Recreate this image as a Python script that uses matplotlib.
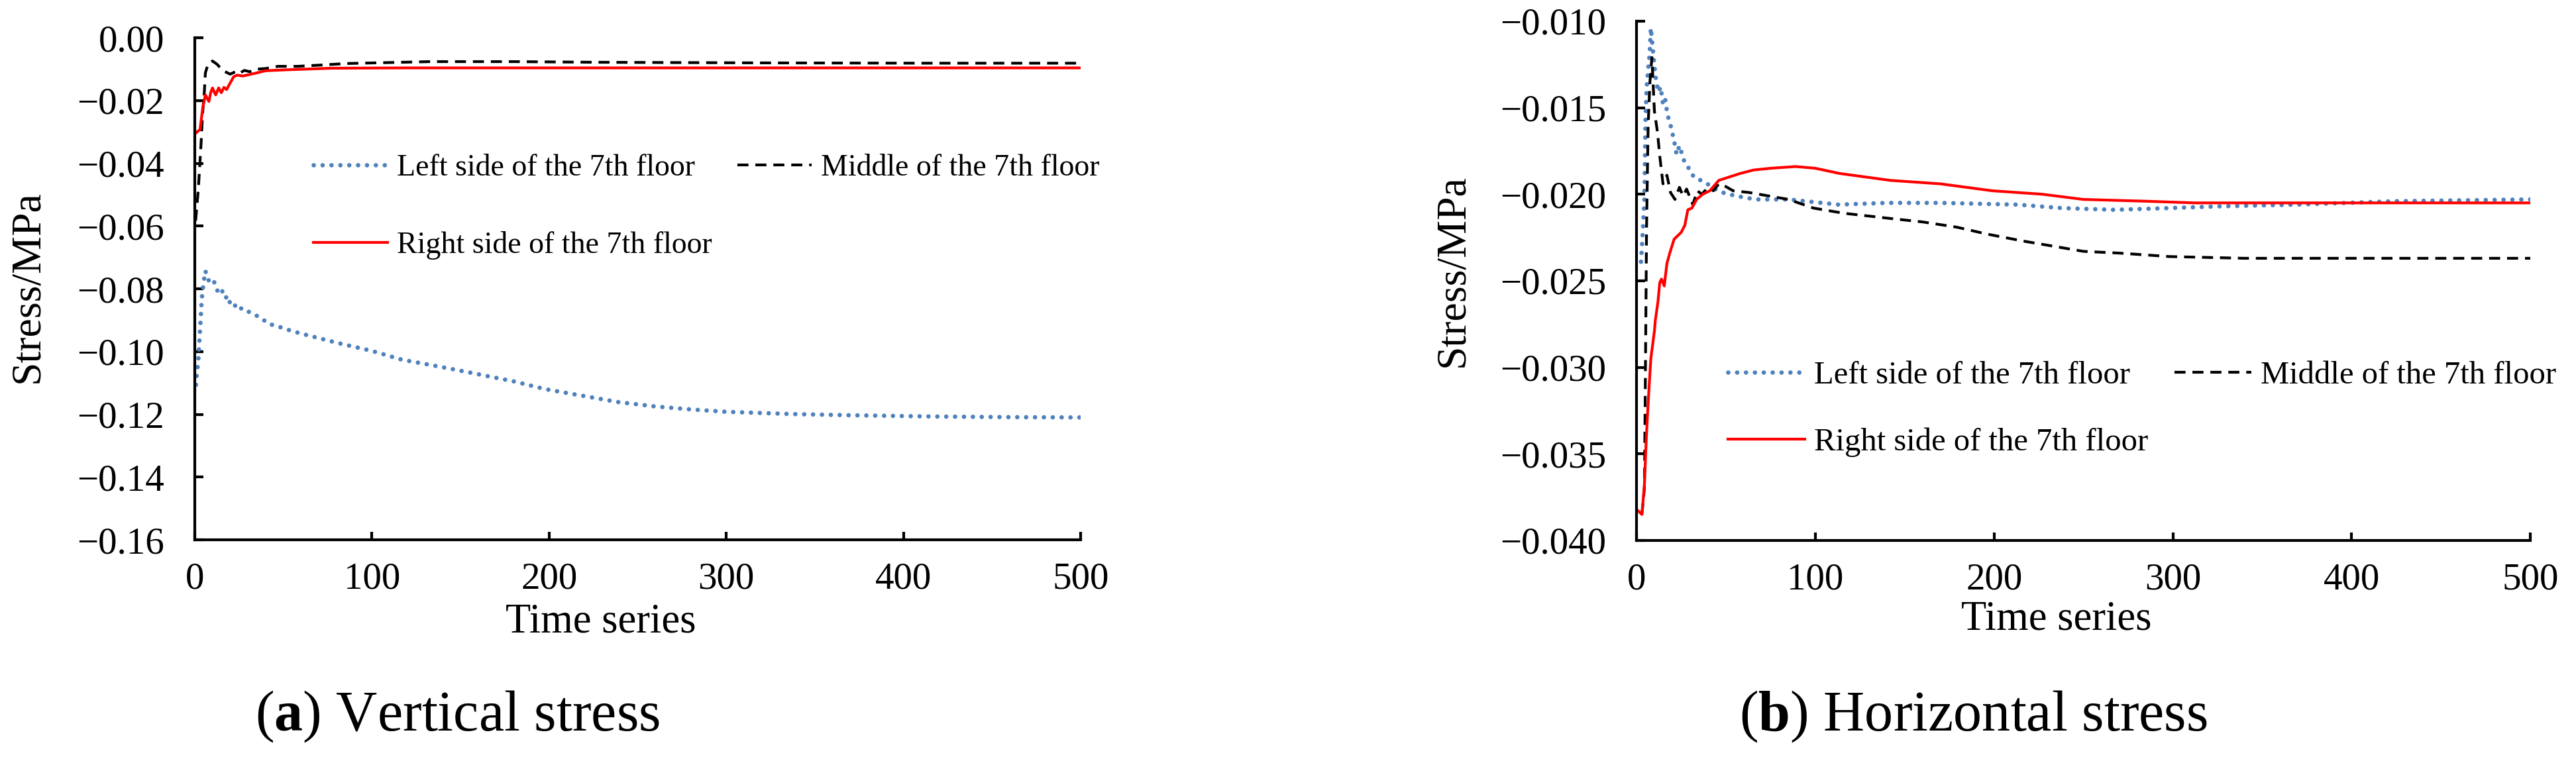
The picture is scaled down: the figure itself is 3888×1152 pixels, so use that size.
import matplotlib
matplotlib.use("Agg")
import matplotlib.pyplot as plt
from matplotlib.ticker import FuncFormatter

plt.rcParams['font.family'] = ['Liberation Serif', 'DejaVu Serif']
plt.rcParams['mathtext.fontset'] = 'custom'
plt.rcParams['mathtext.rm'] = 'Liberation Serif'
plt.rcParams['mathtext.bf'] = 'Liberation Serif:bold'

# ---- (a) vertical stress ----
va_left_t = [0.7, 1, 2, 3, 4, 5, 6, 7, 8, 10, 12, 13, 15, 17, 19, 20, 22, 24, 27, 31, 35, 39, 42, 47,
             55, 65, 81, 100, 117, 140, 158, 180, 198, 220, 239, 260, 279, 300, 336, 370, 417, 460, 500]
va_left_v = [-0.1106, -0.1083, -0.1030, -0.0930, -0.0830, -0.0780, -0.0743, -0.0760, -0.0775, -0.0768,
             -0.0790, -0.0810, -0.0800, -0.0830, -0.0823, -0.0849, -0.0845, -0.0867, -0.0861, -0.0875,
             -0.0886, -0.0900, -0.0912, -0.0920, -0.0935, -0.0950, -0.0973, -0.0998, -0.1026, -0.1050,
             -0.1070, -0.1095, -0.1120, -0.1142, -0.1161, -0.1175, -0.1184, -0.1192, -0.1199, -0.1203,
             -0.1207, -0.1209, -0.1210]

va_mid_t = [0.5, 2, 3.5, 4.4, 5.4, 6, 7.5, 10, 12.5, 16, 20, 23, 25, 28, 31, 35, 40, 47, 58, 71,
            86, 133, 180, 225, 319, 412, 500]
va_mid_v = [-0.0583, -0.0485, -0.0344, -0.0245, -0.0175, -0.0112, -0.0084, -0.0074, -0.0084, -0.0105,
            -0.0116, -0.0108, -0.0114, -0.0104, -0.0108, -0.0100, -0.0098, -0.0091, -0.0091, -0.0087,
            -0.0082, -0.0076, -0.0076, -0.0078, -0.0080, -0.0081, -0.0081]

va_right_t = [1, 3, 4.5, 6, 8, 9, 10, 11.8, 13.5, 15, 16.5, 18, 19.6, 22, 24, 27, 35, 40, 52, 77,
              120, 200, 300, 400, 500]
va_right_v = [-0.0302, -0.0292, -0.0224, -0.0182, -0.0203, -0.0175, -0.0160, -0.0182, -0.0160, -0.0175,
              -0.0158, -0.0165, -0.0148, -0.0124, -0.0119, -0.0122, -0.0112, -0.0105, -0.0102, -0.0097,
              -0.0096, -0.0096, -0.0096, -0.0096, -0.0096]

# ---- (b) horizontal stress ----
hb_left_t = [2.5, 3.5, 4.4, 5, 5.6, 6.5, 7.4, 8, 9, 10, 11, 12.3, 13.5, 14.8, 16, 17.3, 19, 21, 22.4,
             24, 27, 30, 32, 36, 39.6, 44, 48, 55.6, 66.7, 85, 113, 140, 170, 213, 238, 267, 298, 326,
             369, 425, 500]
hb_left_v = [-0.0239, -0.0222, -0.0203, -0.0159, -0.0139, -0.0128, -0.0118, -0.0104, -0.0115, -0.0126,
             -0.0135, -0.0141, -0.0138, -0.0148, -0.0145, -0.0154, -0.0160, -0.0169, -0.0177, -0.0172,
             -0.0182, -0.0186, -0.0190, -0.0192, -0.0194, -0.0197, -0.0199, -0.0201, -0.0203, -0.0203,
             -0.0206, -0.0205, -0.0205, -0.0206, -0.0208, -0.0209, -0.0208, -0.0207, -0.0206, -0.0204,
             -0.0203]

hb_mid_t = [3, 4.4, 5, 5.6, 6.5, 7.5, 8.6, 10, 11.7, 13, 14, 14.8, 17, 19, 21.5, 24, 26, 28, 31.5,
            34, 36.5, 40, 43, 46, 49, 54, 63, 85, 99, 116, 142, 160, 179, 196, 216, 233, 250, 270,
            298, 340, 400, 500]
hb_mid_v = [-0.0385, -0.0370, -0.0300, -0.0220, -0.0160, -0.0135, -0.0121, -0.0152, -0.0164, -0.0178,
            -0.0187, -0.0194, -0.0189, -0.0199, -0.0203, -0.0196, -0.0201, -0.0197, -0.0206, -0.0198,
            -0.0200, -0.0196, -0.0198, -0.0194, -0.0195, -0.0198, -0.0199, -0.0203, -0.0208, -0.0211,
            -0.0214, -0.0216, -0.0219, -0.0223, -0.0227, -0.0230, -0.0233, -0.0234, -0.0236, -0.0237,
            -0.0237, -0.0237]

hb_right_t = [1, 3, 4.4, 5.5, 6.7, 8, 10, 10.5, 12, 13, 14, 15.5, 17, 18.6, 21, 23, 25, 27, 28.7, 31,
              33.6, 37, 41, 46, 52, 58, 65.5, 75, 89, 100, 113.6, 142, 170, 199, 227, 250, 284, 312,
              400, 500]
hb_right_v = [-0.0383, -0.0385, -0.0368, -0.0340, -0.0317, -0.0295, -0.0279, -0.0273, -0.0262, -0.0251,
              -0.0249, -0.0253, -0.0240, -0.0234, -0.0226, -0.0224, -0.0222, -0.0218, -0.0209, -0.0208,
              -0.0203, -0.0200, -0.0198, -0.0192, -0.0190, -0.0188, -0.0186, -0.0185, -0.0184, -0.0185,
              -0.0188, -0.0192, -0.0194, -0.0198, -0.0200, -0.0203, -0.0204, -0.0205, -0.0205, -0.0205]

labels = ["Left side of the 7th floor", "Middle of the 7th floor", "Right side of the 7th floor"]
x_ticks = [0, 100, 200, 300, 400, 500]
va_ticks = [0.00, -0.02, -0.04, -0.06, -0.08, -0.10, -0.12, -0.14, -0.16]
hb_ticks = [-0.010, -0.015, -0.020, -0.025, -0.030, -0.035, -0.040]

BLUE = '#4F81BD'


def fmt(nd):
    def f(v, pos):
        s = f"{v:.{nd}f}"
        if s.startswith('-') and float(s) == 0:
            s = s[1:]
        return s.replace('-', '\u2212')
    return FuncFormatter(f)


def style_axes(ax, yticks, nd):
    for side in ('top', 'right'):
        ax.spines[side].set_visible(False)
    for side in ('left', 'bottom'):
        ax.spines[side].set_linewidth(3)
    ax.set_xlim(0, 500)
    ax.set_ylim(min(yticks), max(yticks))
    ax.set_xticks(x_ticks)
    ax.set_yticks(yticks)
    ax.yaxis.set_major_formatter(fmt(nd))
    ax.tick_params(axis='both', direction='in', length=9, width=3, labelsize=41)
    ax.tick_params(axis='y', pad=33)
    ax.tick_params(axis='x', pad=24)


def draw(ax, lt, lv, mt, mv, rt, rv):
    l1, = ax.plot(lt, lv, color=BLUE, lw=4.8, linestyle=(0, (0.01, 2.0)),
                  dash_capstyle='round', label=labels[0])
    l2, = ax.plot(mt, mv, color='black', lw=3, linestyle=(0, (4, 2.5)), label=labels[1])
    l3, = ax.plot(rt, rv, color='#FF0000', lw=3, label=labels[2])
    return l1, l2, l3


fig = plt.figure(figsize=(38.88, 11.52), dpi=100)
ax1 = fig.add_axes([0.0756, 0.2925, 0.3439, 0.658])
ax2 = fig.add_axes([0.6353, 0.2917, 0.3470, 0.6806])

style_axes(ax1, va_ticks, 2)
style_axes(ax2, hb_ticks, 3)

h1 = draw(ax1, va_left_t, va_left_v, va_mid_t, va_mid_v, va_right_t, va_right_v)
h2 = draw(ax2, hb_left_t, hb_left_v, hb_mid_t, hb_mid_v, hb_right_t, hb_right_v)

# order so that row 1 = left, middle; row 2 = right
ax1.legend(handles=[h1[0], h1[2], h1[1]], ncol=2, frameon=False, loc='upper left',
           bbox_to_anchor=(0.134, 0.768), borderpad=0, borderaxespad=0, fontsize=33,
           handlelength=2.45, handletextpad=0.3, columnspacing=0.83, labelspacing=1.6)
ax2.legend(handles=[h2[0], h2[2], h2[1]], ncol=2, frameon=False, loc='upper left',
           bbox_to_anchor=(0.102, 0.346), borderpad=0, borderaxespad=0, fontsize=35,
           handlelength=2.4, handletextpad=0.29, columnspacing=0.8, labelspacing=1.17)

for ax, xl, yl in ((ax1, (0.458, -0.164), (-0.188, 0.504)), (ax2, (0.47, -0.153), (-0.205, 0.52))):
    ax.set_xlabel("Time series", fontsize=45)
    ax.xaxis.label.set_va('center')
    ax.xaxis.set_label_coords(*xl)
    ax.set_ylabel("Stress/MPa", fontsize=46)
    ax.yaxis.label.set_va('center')
    ax.yaxis.set_label_coords(*yl)

fig.text(0.1775, 0.06, r"($\mathbf{a}$) Vertical stress", fontsize=62, ha='center', va='center')
fig.text(0.766, 0.06, r"($\mathbf{b}$) Horizontal stress", fontsize=62, ha='center', va='center')

fig.savefig("out.png", dpi=100)
